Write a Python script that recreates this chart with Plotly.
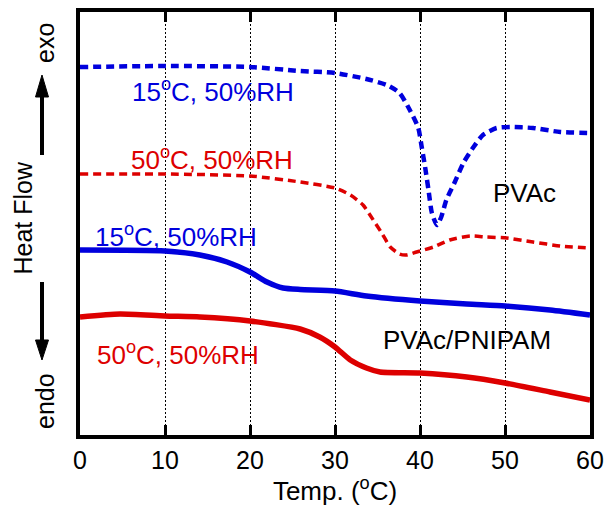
import plotly.graph_objects as go

# Temperatures (°C) and heat flow (arbitrary units)
t_pvac_15 = [0, 10, 20, 25.9, 30, 33.7, 36.1, 37.6, 38.8, 39.8, 40.2, 40.6, 41.0, 41.4, 42.0,
             42.5, 43.1, 44.1, 45.1, 46.3, 47.4, 49.0, 50.6, 53.3, 56.5, 60]
hf_pvac_15 = [368, 369, 368, 364, 362, 356, 350, 342, 325, 307, 288, 268, 245, 222, 210,
              218, 235, 253, 272, 288, 300, 307, 308, 307, 303, 302]

t_pvac_50 = [0, 10, 20, 25.9, 30, 31.8, 33.3, 34.5, 35.5, 36.5, 37.6, 38.4, 39.6, 41.6, 43.5,
             45.9, 47.8, 50.2, 53.3, 56.5, 60]
hf_pvac_50 = [261, 261, 259, 253, 247, 240, 230, 215, 202, 188, 181, 180, 183, 188, 195,
              199, 198, 197, 193, 189, 187]

t_blend_15 = [0, 10, 14.1, 17.3, 20, 22, 23.9, 25.9, 30, 33.7, 40, 45.5, 50, 55.3, 60]
hf_blend_15 = [185, 184, 180, 173, 163, 153, 147, 145.5, 144, 139, 134, 131, 129, 125, 120]

t_blend_50 = [0, 4.7, 10, 14.1, 20, 25.9, 28.2, 30, 31.8, 33.7, 35.3, 40, 45.5, 50, 55.3, 60]
hf_blend_50 = [118, 121, 119, 118, 114, 106, 98, 88, 75, 67, 63, 62, 58, 52, 43, 35]

x_ticks = [0, 10, 20, 30, 40, 50, 60]

BLUE = "#0000dd"
RED = "#dd0000"
FONT = "Liberation Sans, Arial, sans-serif"

fig = go.Figure()
fig.add_trace(go.Scatter(x=t_pvac_15, y=hf_pvac_15, mode="lines",
                         line=dict(color=BLUE, width=4.5, dash="8px,5px", shape="spline", smoothing=0.6)))
fig.add_trace(go.Scatter(x=t_pvac_50, y=hf_pvac_50, mode="lines",
                         line=dict(color=RED, width=3.5, dash="8px,5px", shape="spline", smoothing=0.6)))
fig.add_trace(go.Scatter(x=t_blend_15, y=hf_blend_15, mode="lines",
                         line=dict(color=BLUE, width=5.5, shape="spline", smoothing=0.6)))
fig.add_trace(go.Scatter(x=t_blend_50, y=hf_blend_50, mode="lines",
                         line=dict(color=RED, width=5.5, shape="spline", smoothing=0.6)))

labels = [
    (15.7, 345, "15<sup>o</sup>C, 50%RH", BLUE),
    (15.5, 277, "50<sup>o</sup>C, 50%RH", RED),
    (11.35, 200, "15<sup>o</sup>C, 50%RH", BLUE),
    (11.5, 82, "50<sup>o</sup>C, 50%RH", RED),
    (52.35, 242, "PVAc", "black"),
    (45.5, 95, "PVAc/PNIPAM", "black"),
]
for x, y, txt, c in labels:
    fig.add_annotation(x=x, y=y, text=txt, showarrow=False, xanchor="center", yanchor="middle",
                       font=dict(color=c, size=26, family=FONT))

# y-axis side labels
side = [(-0.0686, 0.9267, "exo"), (-0.1127, 0.513, "Heat Flow"), (-0.0686, 0.0804, "endo")]
for x, y, txt in side:
    fig.add_annotation(xref="paper", yref="paper", x=x, y=y, text=txt, textangle=-90,
                       xanchor="center", yanchor="middle", showarrow=False,
                       font=dict(size=25, family=FONT, color="black"))

# arrows (decoration, paper coordinates)
ax_x, hl, hr = -0.07451, -0.08725, -0.06176
fig.add_shape(type="line", xref="paper", yref="paper", x0=ax_x, x1=ax_x, y0=0.66194, y1=0.805,
              line=dict(color="black", width=4))
fig.add_shape(type="path", xref="paper", yref="paper",
              path=f"M {hl},0.79905 L {ax_x},0.85106 L {hr},0.79905 Z",
              fillcolor="black", line=dict(color="black", width=1))
fig.add_shape(type="line", xref="paper", yref="paper", x0=ax_x, x1=ax_x, y0=0.36170, y1=0.218,
              line=dict(color="black", width=4))
fig.add_shape(type="path", xref="paper", yref="paper",
              path=f"M {hl},0.22459 L {ax_x},0.17730 L {hr},0.22459 Z",
              fillcolor="black", line=dict(color="black", width=1))

fig.update_layout(
    width=605, height=506,
    margin=dict(l=80, r=15, t=12, b=71),
    plot_bgcolor="white", paper_bgcolor="white",
    showlegend=False,
    font=dict(family=FONT, size=25, color="black"),
)
fig.update_xaxes(range=[0, 60], tickvals=x_ticks, showline=True, linewidth=4, linecolor="black",
                 mirror="ticks", ticks="inside", ticklen=10, tickwidth=3, tickcolor="black",
                 showgrid=True, gridcolor="black", gridwidth=1, griddash="2px,2px", zeroline=False,
                 automargin=False,
                 title=dict(text="Temp. (<sup>o</sup>C)", font=dict(size=26, family=FONT), standoff=6),
                 tickfont=dict(size=25, family=FONT))
fig.update_yaxes(range=[0, 423], showline=True, linewidth=4, linecolor="black", mirror=True,
                 ticks="", showticklabels=False, showgrid=False, zeroline=False, automargin=False)

fig.write_html("out.html")
